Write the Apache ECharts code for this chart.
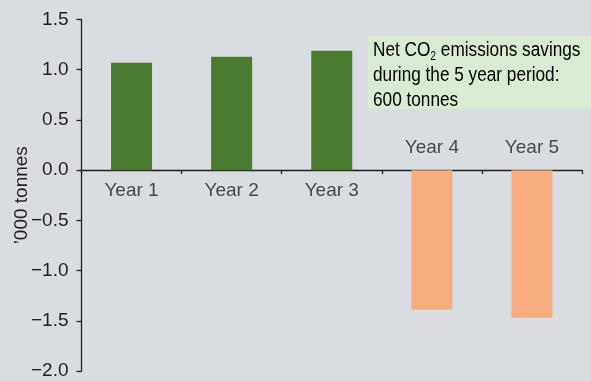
<!DOCTYPE html>
<html>
<head>
<meta charset="utf-8">
<script src="https://cdn.jsdelivr.net/npm/echarts@6/dist/echarts.min.js"></script>
<style>
  html, body { margin: 0; padding: 0; background: #d9dde1; }
  #chart { width: 591px; height: 381px; }
</style>
</head>
<body>
<div id="chart"></div>
<script>
// Annual net CO2 emissions ('000 tonnes); positive = savings, negative = emissions
const years = ['Year 1', 'Year 2', 'Year 3', 'Year 4', 'Year 5'];
const netValues = [1.07, 1.13, 1.19, -1.39, -1.47];
const yTicks = { min: -2.0, max: 1.5, step: 0.5 };

const FONT = '"Liberation Sans Narrow", "Arial Narrow", "Liberation Sans", Arial, sans-serif';
const INK = '#231f20';
const GREEN = '#4a7b31';
const ORANGE = '#f5ad7f';
const LABEL_SIZE = 19;

// Positive years are labelled under the zero line, negative years above it
const belowZero = netValues.map(v => v < 0);

const chart = echarts.init(document.getElementById('chart'), null, { renderer: 'canvas' });

chart.setOption({
  backgroundColor: '#d9dde1',
  animation: false,
  grid: { left: 81.5, right: 9, top: 19.5, bottom: 10, containLabel: false, outerBoundsMode: 'none' },
  xAxis: {
    type: 'category',
    data: years,
    axisLine: { onZero: true, lineStyle: { color: INK, width: 1.3 } },
    axisTick: { show: true, length: 4, lineStyle: { color: INK, width: 1.3 } },
    axisLabel: { show: false },
    splitLine: { show: false }
  },
  yAxis: {
    type: 'value',
    min: yTicks.min,
    max: yTicks.max,
    interval: yTicks.step,
    name: '\u2019000 tonnes',
    nameLocation: 'middle',
    nameGap: 50,
    nameMoveOverlap: false,
    nameTextStyle: { fontFamily: FONT, fontSize: LABEL_SIZE, color: INK },
    axisLine: { show: true, lineStyle: { color: INK, width: 1.3 } },
    axisTick: { show: true, length: 5, lineStyle: { color: INK, width: 1.3 } },
    axisLabel: {
      margin: 13,
      fontFamily: FONT,
      fontSize: LABEL_SIZE,
      color: INK,
      formatter: v => v.toFixed(1).replace('-', '\u2212')
    },
    splitLine: { show: false }
  },
  series: [
    {
      type: 'bar',
      barWidth: 41,
      data: netValues.map(v => ({
        value: v,
        itemStyle: { color: v >= 0 ? GREEN : ORANGE }
      }))
    },
    {
      // year names sitting on the zero line, on the side away from the bar
      type: 'scatter',
      symbolSize: 0,
      silent: true,
      data: years.map((y, i) => ({
        value: [i, 0],
        name: y,
        label: { position: belowZero[i] ? 'top' : 'bottom', distance: belowZero[i] ? 13 : 11 }
      })),
      label: {
        show: true,
        fontFamily: FONT,
        fontSize: LABEL_SIZE,
        color: INK,
        formatter: p => p.name
      }
    }
  ],
  graphic: [
    {
      type: 'rect',
      left: 368,
      top: 36,
      shape: { width: 230, height: 73 },
      style: { fill: '#d9ebd2' },
      silent: true
    },
    {
      type: 'text',
      x: 373,
      y: 38,
      scaleX: 0.86,
      style: {
        text: '{t|Net CO}{s|2}{t| emissions savings}\n{t|during the 5 year period:}\n{t|600 tonnes}',
        rich: {
          t: { fontFamily: FONT, fontSize: 20, color: INK, lineHeight: 25 },
          s: { fontFamily: FONT, fontSize: 12, color: INK, lineHeight: 25, padding: [12, 0, 0, 0] }
        }
      },
      silent: true
    }
  ]
});
</script>
</body>
</html>
